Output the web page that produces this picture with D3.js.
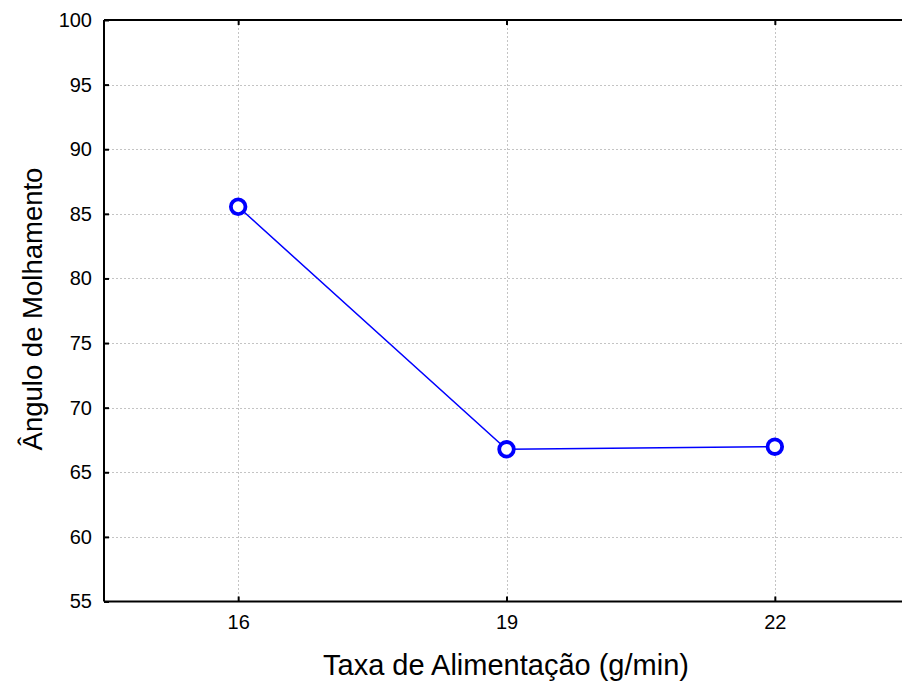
<!DOCTYPE html>
<html>
<head>
<meta charset="utf-8">
<script src="https://cdn.jsdelivr.net/npm/d3@7"></script>
<style>
  html, body { margin: 0; padding: 0; background: #fff; overflow: hidden; }
  svg { display: block; font-family: "Liberation Sans", Arial, sans-serif; }
</style>
</head>
<body>
<svg id="chart" width="902" height="687"></svg>
<script>
// Feed rate (g/min) and mean wetting angle
const taxas = [16, 19, 22];
const angulos = [85.55, 66.78, 66.98];
const yTicks = [55, 60, 65, 70, 75, 80, 85, 90, 95, 100];
const xTicks = [16, 19, 22];

(function () {
  const svg = d3.select("#chart");
  const mLeft = 104, mTop = 20, mBottom = 601.5, mRight = 909;

  const x = d3.scaleLinear().domain([14.5, 23.5]).range([mLeft, mRight]);
  const y = d3.scaleLinear().domain([55, 100]).range([mBottom, mTop]);

  // dotted grid
  const grid = svg.append("g").attr("stroke", "#c4c4c4").attr("stroke-width", 1)
    .attr("stroke-dasharray", "2,2").attr("shape-rendering", "crispEdges");
  yTicks.filter(d => d > 55 && d < 100).forEach(d => {
    grid.append("line").attr("x1", mLeft).attr("x2", mRight)
      .attr("y1", Math.round(y(d)) + 0.5).attr("y2", Math.round(y(d)) + 0.5);
  });
  xTicks.forEach(d => {
    grid.append("line").attr("y1", mTop).attr("y2", mBottom)
      .attr("x1", Math.round(x(d)) + 0.5).attr("x2", Math.round(x(d)) + 0.5);
  });

  // axes (ticks pointing inward)
  const yAxis = d3.axisLeft(y).tickValues(yTicks).tickSize(-5).tickPadding(12).tickFormat(d3.format("d"));
  const gy = svg.append("g").attr("transform", `translate(${mLeft},0)`).call(yAxis);
  const xAxis = d3.axisBottom(x).tickValues(xTicks).tickSize(-5).tickPadding(13).tickFormat(d3.format("d"));
  const gx = svg.append("g").attr("transform", `translate(0,${mBottom})`).call(xAxis);
  const xTop = d3.axisTop(x).tickValues(xTicks).tickSize(-5).tickFormat("");
  const gt = svg.append("g").attr("transform", `translate(0,${mTop})`).call(xTop);

  [gy, gx, gt].forEach(g => {
    g.attr("font-family", null).attr("font-size", null);
    g.select(".domain").attr("stroke", "#000").attr("stroke-width", 2);
    g.selectAll(".tick line").attr("stroke", "#000").attr("stroke-width", 2);
    g.selectAll(".tick text").attr("fill", "#000")
      .style("font-size", "20px").style("font-family", "'Liberation Sans', Arial, sans-serif");
  });
  gy.select(".domain").attr("d", `M0,${mTop}V${mBottom}`);
  gx.select(".domain").attr("d", `M${mLeft},0H${mRight}`);
  gt.select(".domain").attr("d", `M${mLeft},0H${mRight}`);

  // series
  const pts = taxas.map((t, i) => [t, angulos[i]]);
  svg.append("path").datum(pts)
    .attr("fill", "none").attr("stroke", "#0000ff").attr("stroke-width", 1.5)
    .attr("d", d3.line().x(d => x(d[0])).y(d => y(d[1])));
  svg.selectAll("circle.pt").data(pts).enter().append("circle")
    .attr("class", "pt").attr("cx", d => x(d[0])).attr("cy", d => y(d[1]))
    .attr("r", 7.3).attr("fill", "#fff").attr("stroke", "#0000ff").attr("stroke-width", 3.8);

  // axis titles
  svg.append("text").attr("x", 506).attr("y", 675).attr("text-anchor", "middle")
    .attr("font-size", 29).attr("fill", "#000").text("Taxa de Alimentação (g/min)");
  svg.append("text").attr("transform", `translate(42,309) rotate(-90)`)
    .attr("text-anchor", "middle").attr("font-size", 27.5).attr("fill", "#000")
    .text("Ângulo de Molhamento");
})();
</script>
</body>
</html>
